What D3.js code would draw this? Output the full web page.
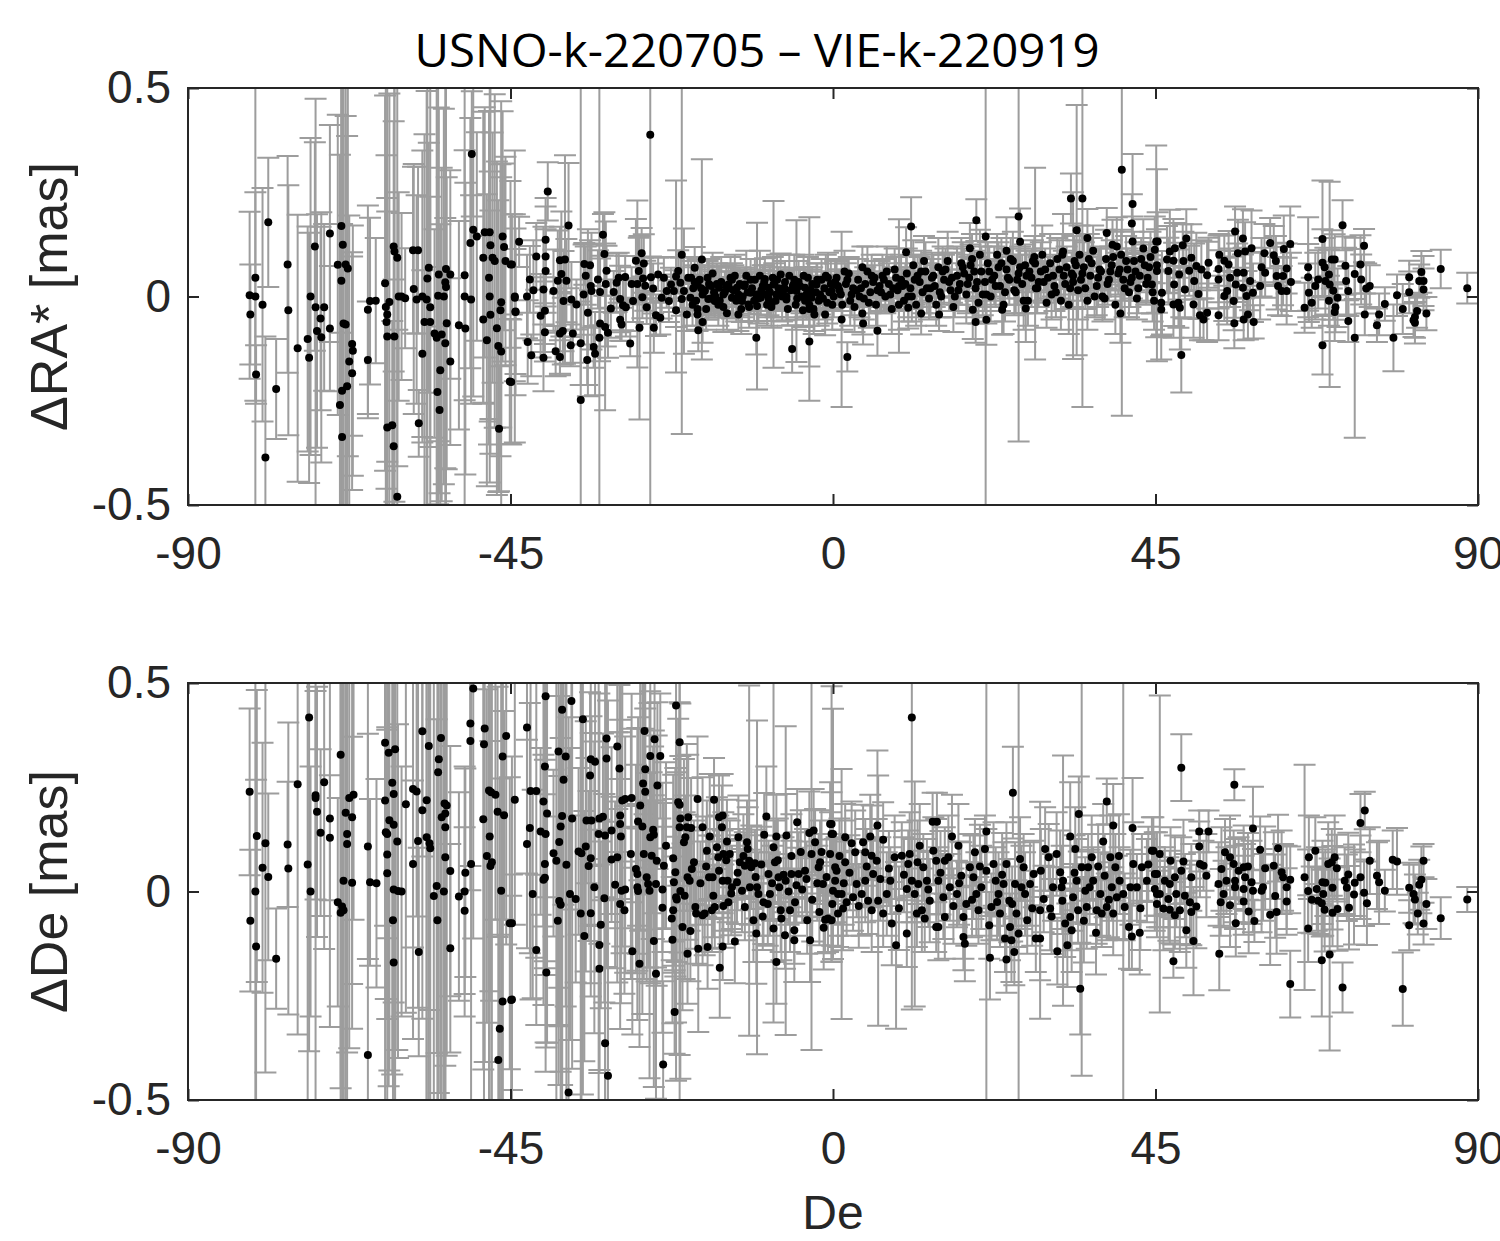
<!DOCTYPE html>
<html><head><meta charset="utf-8">
<script src="https://cdn.jsdelivr.net/npm/d3@7"></script>
<style>body{margin:0;background:#fff}</style>
</head><body>
<script>
// ---------------- DATA: [declination (deg), difference (mas), sigma (mas)] ----------------
const titleText = "USNO-k-220705 – VIE-k-220919";
const xTicks = [-90, -45, 0, 45, 90];
const yTicks = [-0.5, 0, 0.5];
const xLabel = "De";
const yLabelTop = "ΔRA* [mas]";
const yLabelBottom = "ΔDe [mas]";

// ΔRA* panel
const raSouth = [[-81.4,0.003,0.2],[-81.3,-0.043,0.12],[-80.6,0.045,0.6],[-80.6,0,0.25],[-80.5,-0.187,0.07],[-79.6,-0.02,0.28],[-79.2,-0.386,0.29],[-78.8,0.178,0.155],[-77.7,-0.222,0.12],[-76.1,0.077,0.26],[-76,-0.033,0.3],[-74.7,-0.124,0.32],[-73.3,-0.102,0.27],[-73.1,-0.147,0.3],[-72.9,0,0.38],[-72.3,0.12,0.25],[-72.2,-0.026,0.5],[-72,-0.083,0.28],[-71.5,-0.053,0.22],[-71.4,-0.098,0.3],[-71,-0.026,0.2],[-70.2,0.151,0.26],[-70.2,-0.077,0.15],[-69.1,0.076,0.36],[-68.6,0.169,0.7],[-68.4,0.124,0.8],[-68.6,0.038,0.6],[-68,0.077,0.7],[-67.7,0.067,0.45],[-68.3,-0.065,0.7],[-68,-0.067,0.5],[-67.1,-0.114,0.22],[-67,-0.13,0.3],[-67.5,-0.156,0.35],[-67.1,-0.184,0.28],[-67.8,-0.215,0.6],[-68.5,-0.226,0.4],[-68.8,-0.26,0.6],[-68.5,-0.337,0.25],
[-64.9,-0.032,0.25],[-64.6,-0.011,0.2],[-63.8,-0.01,0.15],[-64.9,-0.152,0.14],[-62.5,0.032,0.45],[-62.4,-0.025,0.6],[-61.9,-0.013,0.5],[-62.2,-0.043,0.7],[-62.3,-0.061,0.4],[-62.2,-0.096,0.3],[-61.2,-0.096,0.8],[-61.3,0.12,0.3],[-61.2,0.108,0.6],[-60.8,0.093,0.5],[-60.6,0,0.25],[-60.2,0,0.2],[-59.7,-0.004,0.12],[-62.2,-0.314,0.55],[-61.5,-0.309,0.25],[-61.3,-0.359,0.4],[-60.8,-0.48,0.4],
[-58.5,0.018,0.3],[-58.1,-0.007,0.25],[-58.6,0.111,0.2],[-57.9,0.111,0.2],[-57.3,0,0.35],[-56.7,-0.007,0.5],[-56.2,-0.026,0.6],[-57.3,-0.137,0.2],[-57,-0.061,0.45],[-56.2,-0.061,0.3],[-56.6,0.043,0.55],[-56.4,0.069,0.3],[-57.8,-0.304,0.08],[-55,0.053,0.4],[-54,0.066,0.6],[-53.4,0.053,0.25],[-54.1,0.034,0.55],[-54,0.023,0.7],[-55.1,0.002,0.5],[-54.3,0,0.45],[-53.9,-0.064,0.35],[-55.6,-0.089,0.25],[-55.3,-0.099,0.6],[-54.6,-0.091,0.4],[-54.1,-0.112,0.3],[-53.4,-0.156,0.2],[-54.8,-0.177,0.35],[-55.2,-0.229,0.3],[-54.9,-0.272,0.2],
[-52.2,-0.069,0.25],[-51.3,-0.077,0.35],[-51.4,0.051,0.3],[-51.4,0,0.6],[-50.5,-0.007,0.25],[-50.6,0.128,0.3],[-50.2,0.16,0.4],[-50.4,0.342,0.15],[-49.7,0.144,0.25],[-48.8,0.093,0.35],[-48.6,0.154,0.3],[-47.9,0.154,0.6],[-47.8,0.123,0.5],[-48,0.045,0.4],[-47.9,0,0.3],[-47.8,-0.044,0.25],[-48.8,-0.055,0.2],[-48.3,-0.105,0.35],[-47.5,0.093,0.3],[-47.2,0.085,0.4],[-46.1,0.144,0.3],[-45.9,0.119,0.2],[-45.7,0.085,0.25],[-45,0.077,0.2],[-46.3,-0.014,0.3],[-46.4,-0.033,0.35],[-46.9,-0.076,0.4],[-46.7,-0.119,0.35],[-46.3,-0.132,0.6],[-45.1,-0.204,0.15],[-46.6,-0.317,0.15],[-44.4,-0.003,0.2],[-44.3,-0.037,0.2]];

const raMid = [[-44.8,0.077,0.12],[-44.4,0,0.35],[-44.3,-0.036,0.15],[-44.9,-0.205,0.15],[-43.8,0.131,0.06],[-42.7,0,0.1],[-42.3,0.041,0.08],[-42.6,-0.109,0.1],[-42.1,-0.141,0.05],[-41.8,0.015,0.12],[-41.4,0.096,0.08],[-40.4,-0.147,0.08],[-40.8,-0.046,0.1],[-40.2,-0.034,0.08],[-40.2,-0.086,0.07],[-40.4,0.017,0.15],[-40.1,0.061,0.1],[-40.1,0.096,0.12],[-40.1,0.136,0.1],[-39.8,0.252,0.07],[-39,0.013,0.1],[-38.4,0.038,0.12],[-38.7,-0.131,0.06],[-38.1,-0.145,0.04],[-38.1,-0.089,0.1],[-37.7,-0.083,0.08],[-37.9,0.054,0.15],[-38.1,0.087,0.08],[-37.4,0.089,0.25],[-37.2,0.038,0.1],[-37.6,-0.011,0.12],[-36.9,0.17,0.15],[-36.6,-0.117,0.05],[-36.3,-0.089,0.07],[-36.5,-0.007,0.09],[-35.8,-0.019,0.06],[-35.2,-0.248,0.8],[-35.2,-0.112,0.1],[-34.3,-0.152,0.06],[-34.2,-0.039,0.2],[-34.8,0.005,0.12],[-34.7,0.078,0.05],[-34.5,0.05,0.07],[-33.9,0.075,0.06],[-33.8,0.025,0.1],[-33.7,0.013,0.14],[-33.4,-0.121,0.05],[-33.2,-0.137,0.1],[-32.8,0.041,0.07],[-32.5,0.011,0.08],[-32.6,-0.099,0.7],[-32.5,-0.065,0.09],[-32.1,0.148,0.05],[-31.9,0.102,0.1],[-31.7,0.03,0.15],[-31.6,0.062,0.06],[-31.8,-0.073,0.2],[-31.4,-0.087,0.06],[-31,-0.029,0.07],[-30.6,0.011,0.05],[-30.2,0.033,0.07],[-29.9,0.045,0.06],[-29.7,-0.006,0.08],[-29.7,-0.056,0.05],[-29.3,-0.021,0.06],[-29,0.047,0.05],[-29.5,-0.067,0.04],[-28.9,-0.026,0.07],[-28.3,-0.113,0.03],[-28.1,0.03,0.04],[-27.9,-0.011,0.05],[-27.5,0.086,0.1],[-27.1,0.061,0.08],[-27.3,0.03,0.2],[-27,-0.075,0.22],[-26.7,0.104,0.06],[-26.4,0.079,0.07],[-26.5,0.043,0.05],[-26.2,0.026,0.06],[-26.6,-0.002,0.05],[-26,-0.026,0.04],[-25.5,0.388,0.9],[-25.4,0.046,0.05],[-25,-0.075,0.06],[-24.7,-0.045,0.05],[-25.1,0.019,0.06],[-24.4,0.053,0.04],[-23.9,-0.003,0.05],[-24.1,-0.051,0.04],[-23.6,0.045,0.05],[-23.2,0.013,0.04],[-22.9,-0.011,0.05],[-22.6,0.029,0.04],[-22.2,0.013,0.05],[-21.9,-0.033,0.04],[-21.9,0.048,0.23],[-21.6,0.061,0.05],[-21.1,0.1,0.43],[-21.3,0.033,0.06],[-21.1,-0.006,0.04],[-20.8,0.013,0.15],[-20.4,-0.043,0.04],[-20.2,0.045,0.05],[-19.9,-0.003,0.04],[-19.3,0.069,0.05],[-18.9,0.029,0.06],[-18.9,-0.043,0.04],[-18.8,-0.081,0.05],[-18.3,0.089,0.24],[-18.2,-0.061,0.05],[-17.9,0.013,0.04],[-17.4,-0.006,0.05],[-17,0.025,0.04],[-16.5,-0.011,0.04],[-15.9,0.021,0.05],[-15.3,0.005,0.04],[-14.6,0.029,0.04],[-14.1,-0.003,0.05],[-13.4,0.021,0.04],[-13.2,-0.043,0.04],[-12.7,-0.011,0.05],[-12.3,0.029,0.04],[-11.8,-0.019,0.04],[-11.5,0.009,0.05],[-10.7,-0.099,0.04],[-10.6,-0.023,0.2],[-10.1,-0.003,0.04],[-9.5,0.042,0.05],[-9,0.021,0.04],[-8.6,-0.019,0.04],[-8.3,0.029,0.2],[-7.9,0.005,0.04],[-7.3,0.053,0.05],[-6.8,0.021,0.04],[-6.5,-0.007,0.05],[-5.7,-0.126,0.057],[-5.5,0.029,0.04],[-5.1,0.013,0.17],[-4.2,-0.033,0.04],[-3.9,0.021,0.05],[-3.3,-0.108,0.06],[-3.3,-0.03,0.22],[-3,-0.003,0.04],[-2.6,-0.043,0.04],[-2.3,0.029,0.05],[-1.8,-0.003,0.04],[-1.1,-0.043,0.05],[-0.7,0.045,0.06],[-0.2,0.013,0.04],[0.3,0.029,0.05]];

const raBand = [[-19.5,0.02,0.05],[-19.1,-0.01,0.06],[-18.6,0.04,0.05],[-18.2,0.005,0.04],[-17.7,-0.03,0.05],[-17.3,0.03,0.06],[-16.8,0.055,0.05],[-16.4,0,0.04],[-16,-0.02,0.05],[-15.6,0.035,0.06],[-15.1,0.01,0.05],[-14.8,-0.04,0.04],[-14.3,0.045,0.05],[-13.9,0.015,0.06],[-13.5,-0.01,0.05],[-13,0.03,0.04],[-12.6,0,0.05],[-12.1,0.05,0.06],[-11.7,-0.025,0.05],[-11.3,0.02,0.04],[-10.9,0.04,0.05],[-10.4,-0.005,0.06],[-10,0.015,0.05],[-9.6,0.035,0.04],[-9.2,-0.02,0.05],[-8.8,0.01,0.06],[-8.4,0.045,0.05],[-8,-0.01,0.04],[-7.6,0.02,0.05],[-7.1,0,0.06],[-6.7,0.035,0.05],[-6.3,-0.03,0.04],[-5.9,0.015,0.05],[-5.4,0.04,0.06],[-5,-0.005,0.05],[-4.6,0.025,0.04],[-4.1,0.05,0.05],[-3.7,0.005,0.06],[-3.3,-0.02,0.05],[-2.9,0.03,0.04],[-2.4,0.01,0.05],[-2,-0.01,0.06],[-1.6,0.04,0.05],[-1.2,0.02,0.04],[-0.8,-0.015,0.05],[-0.3,0.03,0.06],[0.1,0,0.05],[0.5,0.045,0.04],[0.9,0.015,0.05],[1.3,-0.02,0.06],[1.8,0.03,0.05],[2.2,0.055,0.04],[2.6,0.005,0.05],[3,-0.025,0.06],[3.5,0.04,0.05],[3.9,0.02,0.04],[4.3,-0.005,0.05],[4.8,0.06,0.06],[5.2,0.01,0.05],[5.6,0.035,0.04],[6,-0.02,0.05],[6.5,0.025,0.06],[6.9,0.05,0.05],[7.3,0,0.04],[7.8,0.03,0.05],[8.2,-0.03,0.06],[8.6,0.065,0.05],[9,0.015,0.05],[9.5,0.04,0.06],[9.9,-0.01,0.05],[10.3,0.055,0.06],[10.8,0.02,0.05],[11.2,0.075,0.06],[11.6,-0.02,0.05],[12.1,0.035,0.06],[12.5,0.01,0.05],[12.9,0.06,0.07],[13.4,-0.005,0.05],[13.8,0.045,0.06],[14.2,0.025,0.05],[14.7,0.07,0.07],[15.1,0,0.05],[15.5,0.04,0.06],[16,0.085,0.07],[16.4,0.015,0.05],[16.8,-0.025,0.06],[17.3,0.05,0.07],[17.7,0.03,0.05],[18.1,0.07,0.06],[18.6,0.005,0.07],[19,0.045,0.05],[19.4,0.09,0.06],[19.9,0.02,0.07],[20.3,-0.015,0.05],[20.7,0.06,0.06],[21.2,0.035,0.07],[21.6,0.08,0.05],[22,0,0.06],[22.5,0.05,0.07],[22.9,0.1,0.05],[23.3,0.025,0.06],[23.8,-0.02,0.07],[24.2,0.065,0.05],[24.6,0.04,0.06],[25.1,0.085,0.07],[25.5,0.01,0.05],[25.9,0.055,0.06],[26.4,0.03,0.07],[26.8,0.075,0.05],[27.2,-0.01,0.06],[27.7,0.045,0.07],[28.1,0.095,0.05],[28.5,0.02,0.06],[29,0.06,0.07],[29.4,0.035,0.05],[29.8,-0.015,0.06],[30.3,0.08,0.07],[30.7,0.05,0.05],[31.1,0.01,0.06],[31.6,0.065,0.07],[32,0.1,0.05],[32.4,0.03,0.06],[32.9,-0.02,0.07],[33.3,0.055,0.05],[33.7,0.085,0.06],[34.2,0.015,0.07],[34.6,0.04,0.05],[35,0.07,0.06],[35.5,-0.01,0.07],[35.9,0.05,0.05],[36.3,0.11,0.06],[36.8,0.025,0.07],[37.2,0.065,0.05],[37.6,0,0.06],[38.1,0.09,0.07],[38.5,0.04,0.05],[38.9,0.075,0.06],[39.4,-0.02,0.07],[39.8,0.055,0.05],[40.2,0.1,0.06],[40.7,0.02,0.07],[41.1,0.065,0.05],[41.5,0.035,0.06],[42,0.085,0.07],[42.4,-0.005,0.05],[42.8,0.05,0.06],[43.3,0.115,0.07],[43.7,0.03,0.05],[44.1,0.07,0.06],[44.6,0.01,0.07],
[-19.8,0.045,0.04],[-18.9,-0.03,0.05],[-17.9,0.015,0.06],[-17,-0.005,0.04],[-16.2,0.03,0.05],[-15.3,-0.025,0.06],[-14.5,0.02,0.04],[-13.7,0.05,0.05],[-12.8,-0.03,0.06],[-11.9,0.01,0.04],[-11,-0.01,0.05],[-10.2,0.05,0.06],[-9.4,0.005,0.04],[-8.6,-0.025,0.05],[-7.8,0.04,0.06],[-6.9,0.015,0.04],[-6.1,0.05,0.05],[-5.2,-0.02,0.06],[-4.4,0,0.04],[-3.5,0.045,0.05],[-2.7,-0.03,0.06],[-1.8,0.005,0.04],[-1,0.05,0.05],[-0.1,-0.02,0.06],[0.7,0.025,0.04],[1.6,0.06,0.05],[2.4,-0.01,0.06],[3.3,0.015,0.04],[4.1,0.07,0.05],[5,-0.015,0.06],[5.8,0.045,0.04],[6.7,0.01,0.05],[7.5,0.06,0.06],[8.4,0.02,0.05],[9.2,-0.02,0.06],[10.1,0.03,0.05],[11,0,0.06],[11.8,0.05,0.05],[12.7,0.085,0.06],[13.6,0.02,0.07],[14.4,-0.02,0.05],[15.3,0.06,0.06],[16.2,0.035,0.07],[17,0,0.05],[17.9,0.08,0.06],[18.8,0.03,0.07],[19.7,0.06,0.05],[20.5,0.1,0.06],[21.4,0.005,0.07],[22.2,0.04,0.05],[23.1,0.07,0.06],[24,0.01,0.07],[24.8,0.09,0.05],[25.7,0.04,0.06],[26.6,-0.01,0.07],[27.4,0.06,0.05],[28.3,0.02,0.06],[29.2,0.1,0.07],[30,0.045,0.05],[30.9,0.025,0.06],[31.8,-0.01,0.07],[32.6,0.07,0.05],[33.5,0.035,0.06],[34.4,0.1,0.07],[35.2,0.02,0.05],[36.1,0.08,0.06],[37,0.045,0.07],[37.9,-0.005,0.05],[38.7,0.06,0.06],[39.6,0.12,0.07],[40.5,0.04,0.05],[41.3,0.01,0.06],[42.2,0.06,0.07],[43,0.09,0.05],[43.9,0.045,0.06],[44.8,-0.01,0.07]];

const raBand2 = [[-19.6,-0.02,0.05],[-19.3,0.035,0.04],[-18.4,0.02,0.05],[-17.5,0.045,0.04],[-16.6,0.01,0.05],[-15.8,-0.01,0.04],[-14.9,0.025,0.05],[-14.1,0.04,0.04],[-13.2,0.005,0.05],[-12.4,0.025,0.04],[-11.5,0.04,0.05],[-10.7,0.005,0.04],[-9.8,0.025,0.05],[-9,-0.005,0.04],[-8.2,0.03,0.05],[-7.3,0.01,0.04],[-6.5,0,0.05],[-5.6,0.025,0.04],[-4.8,0.035,0.05],[-3.9,-0.01,0.04],[-3.1,0.015,0.05],[-2.2,0.04,0.04],[-1.4,-0.005,0.05],[-0.5,0.01,0.04],[0.3,0.035,0.05],[1.1,0.005,0.04],[2,0.04,0.05],[2.8,0.02,0.04],[3.7,0,0.05],[4.5,0.03,0.04],[5.4,0.05,0.05],[6.2,0.015,0.04],[7.1,0.04,0.05],[8,0.005,0.04],[8.8,0.045,0.05],[9.7,0.025,0.04],[10.5,0,0.05],[11.4,0.04,0.06],[12.3,0.06,0.05],[13.1,0.02,0.06],[14,0.05,0.05],[14.9,0.01,0.06],[15.7,0.065,0.05],[16.6,0.045,0.06],[17.5,0.015,0.05],[18.3,0.055,0.06],[19.2,0.075,0.05],[20.1,0.035,0.06],[20.9,0.005,0.05],[21.8,0.06,0.06],[22.7,0.025,0.05],[23.5,0.08,0.06],[24.4,0.045,0.05],[25.3,0.015,0.06],[26.1,0.07,0.05],[27,0.05,0.06],[27.9,0.085,0.05],[28.7,0.035,0.06],[29.6,0.065,0.05],[30.5,0.005,0.06],[31.3,0.09,0.05],[32.2,0.05,0.06],[33.1,0.02,0.05],[33.9,0.075,0.06],[34.8,0.055,0.05],[35.7,0.09,0.06],[36.5,0,0.05],[37.4,0.06,0.06],[38.3,0.03,0.05],[39.1,0.095,0.06],[40,0.065,0.05],[40.9,0.085,0.06],[41.7,0.045,0.05],[42.6,0.02,0.06],[43.5,0.075,0.05],[44.3,0.095,0.06]];

const raNorthOut = [[2,-0.145,0.035],[4.1,-0.041,0.05],[4.2,-0.065,0.05],[6.2,-0.082,0.06],[10.9,0.168,0.07],[10.2,0.106,0.06],[9.2,0.025,0.16],[1.2,-0.055,0.21],[20,0.183,0.05],[21.3,0.144,0.9],[19.9,-0.061,0.05],[21.4,-0.056,0.06],[25.9,0.192,0.54],[26.1,0.131,0.08],[33.2,0.235,0.06],[34.8,0.235,0.5],[34,0.159,0.3],[40.3,0.304,0.59],[41.8,0.222,0.12],[41.7,0.175,0.07],[41.8,0.132,0.06],[40.1,-0.041,0.07],[38.2,0.152,0.06],[35.5,0.14,0.07],[26.9,-0.029,0.08],[28.2,0.079,0.23],[23.6,-0.032,0.06],[19.5,-0.032,0.07],[12.3,-0.041,0.05],[10.5,-0.027,0.05],[14.8,-0.043,0.04],[19.1,0.116,0.06],[24.2,0.11,0.08],[32.1,0.108,0.09],[33.5,0.05,0.2],[39,0.124,0.06],[45.3,0.132,0.07],[45.2,0.075,0.23]];

const raFar = [[45.1,0.132,0.23],[44.9,0.112,0.08],[45.2,0.061,0.1],[44.5,0.029,0.07],[45.9,0.009,0.1],[45.8,-0.015,0.08],[45.8,-0.031,0.12],[47,0.108,0.1],[47.7,0.116,0.06],[48.8,0.123,0.05],[49.3,0.139,0.07],[46.6,0.089,0.08],[47.5,0.086,0.1],[46.8,0.061,0.08],[48.3,0.053,0.06],[47.6,0.029,0.1],[48.9,0.085,0.07],[50,0.093,0.08],[49.7,0.062,0.06],[50.7,0.073,0.08],[51.4,0.065,0.07],[50.4,0.037,0.09],[51,0.006,0.06],[50.3,-0.019,0.08],[49.1,0.017,0.07],[48.2,-0.015,0.06],[47.5,-0.019,0.08],[48.4,-0.027,0.1],[51.2,-0.045,0.06],[51.7,-0.055,0.05],[52.2,-0.039,0.07],[48.6,-0.14,0.09],[52.4,0.081,0.06],[52.2,0.051,0.08],[53.9,0.1,0.05],[53.8,0.066,0.08],[53.8,0.041,0.07],[54.6,0.086,0.06],[55.2,0.077,0.08],[55.4,0.045,0.07],[54.6,0.001,0.06],[55,0.013,0.08],[55.9,-0.011,0.07],[53.8,-0.045,0.06],[56,-0.064,0.06],[56.1,0.156,0.06],[57.2,0.139,0.07],[56.5,0.104,0.08],[57.5,0.108,0.07],[58.4,0.116,0.09],[56.4,0.057,0.07],[56.2,0.029,0.08],[57.3,0.057,0.06],[58.2,0.037,0.07],[57.2,0.021,0.08],[57.7,0.001,0.06],[58.6,0.009,0.07],[57.9,-0.043,0.06],[57.3,-0.055,0.05],[58.7,-0.061,0.04],[59.6,0.025,0.08],[59.8,0.07,0.07],[60.3,0.057,0.06],[60.2,0.104,0.07],[61,0.128,0.06],[61.5,0.099,0.07],[61.8,0.085,0.06],[61.9,0.049,0.08],[62.1,0.025,0.07],[62.6,0.013,0.06],[62.9,0.114,0.08],[63.3,0.067,0.06],[62.8,0.049,0.07],[63.3,0.013,0.08],[63.8,0.126,0.09],[63.9,0.035,0.07],[65.8,-0.027,0.06],[66.3,0.07,0.12],[66.3,0.046,0.08],[66.4,0.009,0.07],[66.8,-0.015,0.06],[67.3,0.025,0.08],[67.7,0.041,0.07],[68.3,0.138,0.14],[68.3,0.081,0.08],[68.6,0.07,0.07],[68.7,0.037,0.08],[69.2,0.053,0.06],[69.3,0.029,0.246],[69.6,0.089,0.07],[70,0.089,0.06],[69.8,0.014,0.07],[69.2,-0.01,0.06],[70.4,-0.003,0.07],[70.1,-0.026,0.06],[70,-0.037,0.07],[68.3,-0.117,0.07],[71.1,0.171,0.06],[71.5,0.074,0.07],[71.6,0.037,0.08],[71.9,0.013,0.06],[71.9,-0.059,0.05],[72.8,0.054,0.06],[72.8,-0.099,0.24],[73.6,0.077,0.07],[73.7,0.041,0.06],[74.1,0.122,0.04],[74.4,0.019,0.06],[74.9,0.025,0.05],[74.2,-0.043,0.05],[75.9,-0.069,0.04],[76.2,-0.043,0.05],[77,-0.018,0.04],[78.2,-0.099,0.08],[78.7,0.003,0.05],[79.5,-0.03,0.06],[80.4,0.046,0.04],[80.4,0.01,0.05],[81.5,-0.035,0.04],[81.2,-0.049,0.05],[81,-0.057,0.04],[81.2,-0.063,0.05],[81.8,0.037,0.04],[82.1,0.059,0.05],[82.4,0.037,0.06],[82.4,0.017,0.05],[82.8,-0.041,0.04],[84.8,0.066,0.046],[88.5,0.02,0.037]];

// ΔDe panel
const deSouth = [[-81.4,0.239,0.2],[-80.4,0.133,0.35],[-79.2,0.116,0.55],[-79.6,0.057,0.3],[-78.8,0.035,0.2],[-80.6,0,0.8],[-81.3,-0.07,0.17],[-80.5,-0.132,0.4],[-77.7,-0.161,0.12],[-76.1,0.113,0.15],[-76,0.055,0.35],[-74.7,0.257,0.6],[-73.1,0.417,0.8],[-73.3,0.065,0.7],[-72.9,0,0.3],[-72.2,0.231,0.25],[-72.2,0.224,0.8],[-72,0.191,0.3],[-71.5,0.141,0.2],[-71,0.262,0.4],[-70.2,0.175,0.5],[-70.2,0.129,0.15],[-68.7,0.328,0.8],[-68,0.189,0.9],[-67.8,0.138,0.7],[-67.8,0.114,0.5],[-67.5,0.224,0.6],[-66.9,0.232,0.3],[-67.1,0.178,0.4],[-68.3,0.026,0.8],[-67.1,0.021,0.35],[-69.1,-0.026,0.25],[-68.5,-0.036,0.7],[-68.7,-0.051,0.9],[-68.3,-0.045,0.6],[-64.9,0.108,0.27],[-64.6,0.022,0.2],[-63.7,0.02,0.25],[-64.9,-0.392,0.9],[-62.5,0.357,0.9],[-62,0.333,0.8],[-61.1,0.341,0.9],[-61.5,0.261,0.7],[-61.3,0.234,0.5],[-62.5,0.218,0.3],[-61.9,0.171,0.6],[-61.3,0.16,0.9],[-62.4,0.142,0.4],[-62.2,0.138,0.25],[-60.8,0.12,0.5],[-62.2,0.089,0.7],[-62.2,0.044,0.35],[-61.3,0.005,0.6],[-60.7,0.001,0.4],[-60.2,0,0.3],[-59.6,0.209,0.5],[-61.4,-0.069,0.9],[-61.3,-0.17,0.7],[-58.6,0.246,0.6],[-58.1,0.24,0.3],[-57.3,0.195,0.5],[-56.7,0.219,0.9],[-57.3,0.384,0.3],[-56.4,0.349,0.9],[-57.9,0.121,0.4],[-58.6,0.066,0.2],[-56.7,0.13,0.7],[-56.3,0.116,0.4],[-56.2,0.104,0.9],[-57.8,-0.145,0.25],[-54.7,0.368,0.9],[-55,0.317,0.8],[-55.1,0.286,0.9],[-54.2,0.211,0.9],[-53.9,0.206,0.6],[-54.1,0.187,0.8],[-54.6,0.178,0.9],[-54.1,0.154,0.7],[-54.1,0.082,0.5],[-53.4,0.049,0.3],[-55.3,0.013,0.4],[-55.7,-0.011,0.8],[-54.3,0,0.6],[-55.2,-0.069,0.9],[-53.4,-0.136,0.25],[-50.2,0.487,0.6],[-50.6,0.403,0.4],[-50.6,0.361,0.3],[-48.6,0.391,0.8],[-48.7,0.353,0.9],[-50.5,0.066,0.6],[-51.3,0.045,0.25],[-51.4,0,0.3],[-52.2,-0.012,0.25],[-51.4,-0.046,0.2],[-48.8,0.173,0.6],[-48,0.242,0.9],[-47.7,0.238,0.5],[-47.1,0.232,0.3],[-47.9,0.132,0.9],[-48.3,0.085,0.4],[-47.6,0.07,0.7],[-47.8,0.061,0.3],[-46.8,0.191,0.3],[-45.9,0.183,0.25],[-46.1,0.324,0.9],[-45.6,0.373,0.5],[-46.3,0.002,0.9],[-45.1,-0.076,0.35],[-46.1,-0.264,0.9],[-44.9,-0.26,0.25],[-46.5,-0.329,0.6],[-46.7,-0.404,0.3],[-44.4,0.22,0.3]];

const deMid = [[-44.8,-0.076,0.4],[-44.8,-0.259,0.3],[-40.1,0.468,0.9],[-37.8,0.436,0.9],[-36.5,0.457,0.5],[-42.7,0.393,0.35],[-34.9,0.413,0.9],[-38.3,0.336,0.8],[-37.3,0.324,0.6],[-40.2,0.3,0.5],[-37.6,0.268,0.3],[-42.2,0.241,0.5],[-41.4,0.241,0.4],[-40.4,0.216,0.3],[-39.9,0.187,0.55],[-37.8,0.181,0.9],[-38,0.156,0.7],[-36.4,0.175,0.6],[-42.3,0.152,0.3],[-40.8,0.144,0.2],[-40.1,0.138,0.5],[-42.7,0.114,0.25],[-38.2,0.119,0.35],[-39,0.092,0.2],[-38.6,0.074,0.8],[-40.2,0.066,0.25],[-37.2,0.064,0.9],[-40.4,0.028,0.3],[-40.2,0.033,0.2],[-41.9,-0.006,0.25],[-38.2,-0.023,0.3],[-38,-0.032,0.4],[-38.4,-0.07,0.25],[-36.7,-0.006,0.35],[-35.9,-0.018,0.2],[-41.4,-0.14,0.18],[-40,-0.194,0.18],[-36.9,-0.482,0.9],[-35.2,-0.053,0.9],[-34.7,-0.107,0.3],[-35.5,0.096,0.2],[-35.1,0.092,0.6],[-34.5,0.108,0.3],[-33.9,0.278,0.2],[-33.8,0.317,0.4],[-33.2,0.311,0.25],[-34.4,0.17,0.15],[-33.7,0.17,0.25],[-33.8,0.08,0.3],[-34.1,0.061,0.18],[-33.3,0.01,0.35],[-33.8,-0.052,0.2],[-32.7,0.138,0.9],[-32.6,0.175,0.3],[-32.1,0.179,0.2],[-31.8,0.134,0.9],[-31.6,0.367,0.2],[-31.6,0.319,0.5],[-31.9,-0.016,0.25],[-32.4,-0.08,0.2],[-32.6,-0.128,0.3],[-32.6,-0.185,0.25],[-31.8,-0.364,0.35],[-31.4,-0.442,0.9],[-30.9,0.146,0.2],[-30.9,0.077,0.15],[-30.1,0.348,0.15],[-29.8,0.295,0.2],[-30.1,0.082,0.3],[-29.6,0.132,0.4],[-29.7,0.162,0.25],[-29.7,0.182,0.2],[-29.4,0.218,0.35],[-29,0.222,0.15],[-28.1,0.224,0.25],[-30.4,0.016,0.2],[-29.5,0.002,0.15],[-29,0.005,0.2],[-29.7,-0.03,0.3],[-29.1,-0.045,0.2],[-28,-0.143,0.2],[-28.2,0.09,0.3],[-27.5,0.054,0.25],[-27.3,0.042,0.35],[-27.3,0.01,0.2],[-27.2,0.001,0.15],[-26.9,0.206,0.3],[-27,-0.173,0.2],[-26.3,0.385,0.2],[-26.2,0.293,0.3],[-26.5,0.259,0.35],[-26.2,0.239,0.2],[-27.2,0.168,0.25],[-26.6,0.156,0.45],[-26.4,0.09,0.3],[-26,0.034,0.25],[-25.8,0.018,0.2],[-25.6,0.002,0.45],[-25.5,0.325,0.25],[-24.9,0.365,0.3],[-24.1,0.325,0.15],[-24.5,0.254,0.2],[-25.1,0.148,0.2],[-25.5,0.13,0.35],[-25,0.136,0.25],[-25.3,0.086,0.2],[-24.6,0.074,0.3],[-24.7,0.018,0.2],[-23.8,0.005,0.15],[-23.8,-0.039,0.3],[-25,-0.119,0.35],[-24.7,-0.197,0.3],[-23.7,-0.415,0.2],[-23.3,0.11,0.2],[-23.6,0.062,0.15],[-22.3,0.08,0.2],[-21.9,0.446,0.9],[-21.4,0.358,0.9],[-21.6,0.214,0.2],[-21.4,0.208,0.6],[-21.3,0.175,0.15],[-21.4,0.154,0.3],[-20.4,0.154,0.2],[-20.2,0.178,0.15],[-19.8,0.152,0.12],[-20.8,0.118,0.2],[-20.6,0.13,0.1],[-22,0.046,0.25],[-22.2,0.022,0.2],[-21.9,-0.014,0.3],[-21.8,-0.019,0.15],[-21.3,0.001,0.45],[-20.7,-0.01,0.2],[-20.3,0.034,0.15],[-20,0.026,0.12],[-19.7,0.054,0.1],[-22.3,-0.045,0.15],[-22.5,-0.065,0.1],[-22.4,-0.116,0.2],[-21,-0.085,0.2],[-19.9,-0.095,0.12],[-20.3,-0.149,0.12],[-22.1,-0.289,0.1],[-19.2,-0.037,0.1],[-19.1,-0.053,0.12],[-18.8,-0.137,0.2],[-18.9,0.222,0.15],[-18.2,0.154,0.12],[-18.2,-0.057,0.12],[-17.9,-0.053,0.1],[-17.6,0.098,0.12],[-17.3,0.034,0.1],[-17.2,0.132,0.15],[-16.8,0.034,0.1],[-16.6,0.22,0.1],[-17.5,-0.133,0.1],[-15.8,-0.183,0.12],[-16.9,-0.045,0.1],[-16.5,-0.037,0.1],[-16.2,0.106,0.12],[-16,0.082,0.1],[-15.9,0.178,0.1],[-15.4,0.182,0.1],[-15.5,0.154,0.1],[-15.4,0.026,0.12],[-15.3,0.09,0.1],[-14.8,0.12,0.1],[-14.7,0.026,0.1],[-15.3,-0.035,0.1],[-14.6,-0.026,0.1],[-14.4,0.09,0.08],[-15.4,-0.132,0.08],[-13.7,-0.12,0.1],[-14.1,0.01,0.1],[-13.4,0.022,0.1],[-13.2,0.13,0.1],[-13,0.07,0.08],[-12.7,0.002,0.1],[-12.3,-0.037,0.08],[-12,0.118,0.1],[-11.9,0.102,0.1],[-12.3,0.062,0.08],[-11.7,0.074,0.42],[-11.4,0.058,0.1],[-10.9,0.068,0.08],[-11.1,-0.069,0.1],[-10.7,-0.101,0.12],[-10.6,0.01,0.4],[-10.4,-0.006,0.1],[-9.8,-0.06,0.08],[-9.7,-0.026,0.1],[-9.6,0.136,0.1],[-9.3,0.18,0.12],[-9,0.042,0.08],[-8.8,-0.006,0.1],[-8.3,0.106,0.42],[-8.1,0.07,0.1],[-8.3,-0.089,0.08],[-7.9,-0.169,0.1],[-7.6,0.034,0.1],[-7.5,0.01,0.08],[-7.9,0.132,0.1],[-7.3,-0.045,0.1],[-7.2,-0.065,0.1],[-6.7,-0.105,0.08],[-6.6,0.026,0.37],[-6.5,0.134,0.1],[-6.2,0,0.08],[-5.8,0.085,0.1],[-5.8,0.042,0.08],[-5.4,-0.093,0.08],[-5.4,-0.117,0.1],[-5.3,-0.026,0.08],[-5,0.166,0.08],[-4.8,0.042,0.1],[-4.3,0.005,0.08],[-3.9,0.05,0.1],[-3.6,-0.069,0.08],[-3.3,0.14,0.1],[-3.2,-0.117,0.1],[-3,0.09,0.47],[-2.7,0.146,0.1],[-2.5,0.118,0.08],[-2,0.058,0.08],[-1.8,0.07,0.1],[-1.9,-0.049,0.08],[-1.4,0.018,0.08],[-1.3,-0.087,0.1],[-1.1,-0.068,0.08],[-0.7,-0.065,0.08],[-0.4,0.09,0.1],[-0.2,0.162,0.33],[-0.2,0.138,0.1],[0,0.002,0.08],[0.3,0.058,0.08],[0.7,-0.006,0.1]];

const deBand = [[-19.4,0.07,0.1],[-18.5,0.02,0.1],[-17.7,0.06,0.12],[-16.7,-0.01,0.1],[-15.9,0.05,0.1],[-14.9,0.075,0.1],[-14.2,-0.005,0.1],[-13.3,0.045,0.09],[-12.5,0.085,0.1],[-11.6,0.01,0.09],[-10.8,0.035,0.1],[-10,0.065,0.09],[-9.1,-0.03,0.1],[-8.5,0.02,0.09],[-7.7,0.075,0.1],[-6.9,0.04,0.09],[-6,-0.045,0.1],[-5.1,0.015,0.09],[-4.5,0.095,0.1],[-3.7,0.03,0.09],[-2.9,-0.02,0.1],[-2.2,0.02,0.09],[-1.6,0.095,0.1],[-0.9,0.035,0.09],[-0.1,-0.03,0.1],[0.9,0.085,0.09],[1.5,0.02,0.1],[2.3,0.045,0.09],[3.6,-0.035,0.1],[4.7,0.06,0.09],[6.6,0.03,0.1],[7.8,0.055,0.09],[9.2,-0.04,0.1],[9.9,0.04,0.09],[11.8,0.07,0.1],[13.3,0.005,0.09],[15,0.045,0.1],[16.8,-0.035,0.09],[17.6,0.02,0.1],[19.4,-0.02,0.09],[20.5,0.06,0.1],[22.9,-0.025,0.09],[23.6,0.04,0.1],[25,-0.03,0.09],[26.3,0.01,0.1],[27.8,-0.04,0.09],[29,0.05,0.1],[30.5,-0.06,0.09],[31.9,0.01,0.1],[33.7,0.045,0.09],[35,-0.07,0.1],[35.8,0.01,0.09],[37,0.06,0.1],[38.5,-0.02,0.09],[39.9,0.085,0.1],[41.5,0.01,0.09],[42.9,-0.04,0.1],[44,0.065,0.09]];

const deNorth = [[11,0.417,0.7],[25.1,0.237,0.11],[38.2,0.216,0.055],[34.3,0.186,0.09],[39.1,0.158,0.1],[41.8,0.152,0.12],[21.4,0.144,0.9],[33.1,0.132,0.13],[33.8,0.102,0.1],[37.7,0.12,0.09],[6.2,0.158,0.18],[13.9,0.167,0.07],[14.5,0.167,0.07],[16.6,0.132,0.1],[-0.4,0.162,0.1],[0,0.138,0.3],[1.7,0.13,0.08],[2.6,0.116,0.1],[4.2,0.118,0.09],[5.2,0.132,0.1],[7,0.124,0.09],[3.1,0.094,0.1],[4.5,0.094,0.08],[5.4,0.086,0.12],[6.1,0.074,0.1],[5.6,0.042,0.08],[4.5,0.026,0.1],[3.3,0.018,0.08],[1.7,0.07,0.1],[0.5,0.05,0.08],[0.3,0.026,0.1],[1.2,-0.006,0.3],[1.9,-0.026,0.08],[1.4,-0.041,0.1],[0.7,-0.053,0.08],[-0.2,-0.069,0.1],[2.8,-0.014,0.08],[4,-0.006,0.1],[4.9,-0.022,0.08],[5.4,-0.045,0.1],[6.3,-0.022,0.3],[7,-0.053,0.08],[8.2,-0.077,0.1],[8.8,-0.129,0.2],[10.3,-0.101,0.08],[7.5,-0.006,0.1],[8,0.026,0.08],[8.6,0.082,0.1],[9.6,0.086,0.08],[10.7,0.09,0.1],[10.5,0.066,0.08],[11,0.026,0.1],[10.3,0.006,0.08],[11.4,-0.006,0.27],[11.9,0.018,0.08],[12.1,0.11,0.1],[12.6,0.058,0.08],[13.1,0.026,0.1],[11.7,-0.053,0.08],[12.4,-0.045,0.1],[12.8,-0.065,0.08],[13.5,-0.022,0.1],[14,0.098,0.08],[14.4,0.074,0.1],[14.7,0.026,0.08],[14.4,-0.085,0.06],[14.7,-0.085,0.08],[15.4,-0.014,0.1],[15.6,0.074,0.08],[16.1,0.082,0.1],[16.3,0.01,0.08],[15.6,-0.061,0.1],[17.3,-0.006,0.08],[17.5,0.11,0.1],[17.9,0.038,0.08],[18.2,-0.061,0.1],[18.2,-0.109,0.08],[18.4,-0.125,0.09],[18.6,-0.03,0.1],[19.1,0.058,0.08],[19.6,0.034,0.1],[19.8,0.094,0.08],[20,-0.006,0.1],[20.3,-0.045,0.08],[20.7,0.01,0.1],[21.2,0.102,0.08],[21.4,0.05,0.1],[21.8,-0.081,0.08],[21.9,-0.159,0.1],[22.1,-0.037,0.08],[22.4,0.066,0.1],[22.7,0.026,0.08],[23.1,-0.006,0.1],[23.3,-0.053,0.08],[23.8,0.018,0.1],[24,-0.113,0.08],[24.2,0.066,0.1],[24.2,-0.163,0.08],[24.6,-0.022,0.1],[24.7,-0.085,0.08],[24.9,-0.117,0.1],[25.3,-0.145,0.08],[25.4,0.018,0.1],[25.6,-0.053,0.08],[25.9,-0.101,0.9],[26.1,0.078,0.1],[26.6,0.058,0.08],[26.8,-0.006,0.1],[27.1,-0.069,0.08],[27.5,0.018,0.1],[28,0.042,0.08],[28.3,-0.113,0.08],[28.9,-0.113,0.1],[28.9,-0.045,0.26],[29.4,-0.018,0.08],[29.6,0.102,0.1],[30.1,0.082,0.08],[30.3,-0.041,0.1],[30.7,0.01,0.08],[31.2,0.09,0.1],[31.3,-0.143,0.08],[31.7,0.046,0.1],[32,-0.022,0.08],[32.1,0.026,0.3],[32.4,-0.077,0.08],[32.7,-0.129,0.1],[33.1,-0.061,0.08],[33.3,-0.093,0.1],[33.5,-0.014,0.08],[34,0.026,0.1],[34.2,-0.045,0.08],[34.5,-0.233,0.11],[34.7,0.058,0.5],[35.2,0.002,0.08],[35.4,-0.037,0.1],[35.6,0.058,0.08],[36.1,0.082,0.1],[36.3,0.026,0.08],[36.7,-0.099,0.1],[36.8,-0.045,0.08],[37.3,-0.006,0.1],[37.5,-0.053,0.08],[37.9,0.038,0.1],[38.2,-0.037,0.08],[38.7,0.082,0.1],[38.9,0.01,0.08],[39.1,-0.053,0.1],[39.4,0.058,0.08],[39.6,-0.014,0.1],[40,0.026,0.08],[40.5,-0.006,0.9],[40.7,-0.037,0.08],[41.3,-0.085,0.1],[41.7,-0.108,0.08],[41.9,0.066,0.1],[42.4,0.01,0.08],[42.8,-0.099,0.1],[43.1,0.058,0.08],[43.8,0.026,0.1],[44.5,0.098,0.08],[44.9,0.042,0.1],[45.2,-0.006,0.08]];

const deFar = [[48.6,0.297,0.08],[56,0.256,0.037],[74.2,0.194,0.045],[73.6,0.164,0.07],[58.6,0.151,0.1],[51.1,0.144,0.05],[52.4,0.144,0.05],[51.1,0.108,0.06],[44.7,0.098,0.08],[45.6,0.09,0.38],[47.1,0.074,0.08],[48.9,0.072,0.1],[51.2,0.066,0.08],[51.7,0.062,0.06],[46.3,0.026,0.08],[45.2,0.042,0.1],[47,0.018,0.08],[47.7,0.034,0.1],[48.6,0.05,0.08],[44.9,0.006,0.1],[45.6,-0.006,0.08],[46.8,-0.018,0.1],[47.9,-0.006,0.08],[49.1,-0.01,0.1],[45.2,-0.03,0.08],[46.1,-0.041,0.1],[47,-0.044,0.08],[48.4,-0.045,0.1],[47.7,-0.057,0.08],[49.8,-0.026,0.1],[50,-0.049,0.08],[50.7,-0.036,0.1],[50,0.034,0.08],[52.1,0.038,0.1],[49.3,-0.093,0.09],[50.3,-0.119,0.13],[47.5,-0.167,0.04],[53.9,-0.149,0.088],[54.7,0.094,0.08],[55.4,0.082,0.1],[55.9,0.066,0.08],[54.2,0.054,0.1],[56.6,0.05,0.08],[57.3,0.058,0.1],[57.9,0.06,0.08],[53.8,0.018,0.1],[54.9,0.026,0.08],[56.1,0.026,0.1],[57.5,0.034,0.08],[58.4,0.022,0.1],[54.5,-0.006,0.08],[56.1,0.01,0.1],[57.3,0.006,0.08],[58.6,0.002,0.1],[54.1,-0.026,0.08],[55.4,-0.033,0.1],[57.3,-0.024,0.08],[58,-0.048,0.1],[56.2,-0.076,0.08],[58.8,-0.071,0.05],[59.6,0.1,0.08],[60.3,0.056,0.1],[60,0.01,0.08],[59.8,0.002,0.1],[61.5,0.062,0.08],[62.1,0.104,0.08],[62.6,0.046,0.1],[62.8,0.034,0.08],[63.3,0.01,0.1],[63.8,0.028,0.08],[61.7,-0.011,0.1],[63.3,-0.024,0.08],[61.9,-0.049,0.1],[61,-0.056,0.12],[63.8,-0.222,0.08],[65.8,0.034,0.27],[66.4,0.082,0.1],[67.3,0.098,0.08],[66.3,0.001,0.1],[66.8,-0.02,0.08],[67.5,0.006,0.1],[67.7,-0.022,0.08],[68.3,0.022,0.1],[68.7,0.021,0.08],[68.4,-0.006,0.1],[68.2,-0.028,0.08],[68.6,-0.044,0.1],[66.3,-0.089,0.08],[68.2,-0.165,0.135],[69.3,-0.151,0.23],[69.1,0.066,0.1],[69.6,0.07,0.08],[70,0.082,0.1],[70.3,0.056,0.08],[69.7,0.009,0.1],[69.7,-0.051,0.08],[70.4,-0.042,0.1],[71.1,-0.23,0.06],[71.4,0.026,0.08],[71.9,0.041,0.1],[71.7,0.009,0.08],[72,-0.039,0.1],[72.7,-0.007,0.12],[72.8,0.021,0.08],[73.6,0.034,0.1],[74.1,-0.003,0.08],[74.5,-0.028,0.1],[74.9,0.074,0.08],[75.9,0.038,0.08],[76.2,0.022,0.1],[77,0.002,0.05],[78.1,0.076,0.07],[78.7,0.072,0.08],[79.5,-0.234,0.088],[80.4,0.009,0.06],[80.4,-0.081,0.06],[81,-0.006,0.07],[81.2,-0.019,0.06],[81.6,-0.053,0.05],[81.8,0.016,0.06],[82.1,0.028,0.08],[82.4,0.074,0.04],[82.4,-0.077,0.05],[82.8,-0.03,0.06],[84.8,-0.064,0.05],[88.5,-0.019,0.03]];

// ---------------- DRAWING ----------------
const W = 1500, H = 1241;
const svg = d3.select("body").append("svg").attr("width", W).attr("height", H)
  .style("background", "#fff").style("display", "block");

const FONT = "'Liberation Sans', Arial, Helvetica, sans-serif";
const AXC = "#262626";

svg.append("text").attr("x", 757).attr("y", 67).attr("text-anchor", "middle")
  .attr("font-family", "'Open Sans', 'Liberation Sans', sans-serif").attr("font-size", 46)
  .attr("textLength", 685).attr("lengthAdjust", "spacingAndGlyphs")
  .attr("fill", "#000").text(titleText);

const x = d3.scaleLinear().domain([-90, 90]).range([188, 1478]);

function panel(id, top, bottom, series, ylab, showXLabel) {
  const y = d3.scaleLinear().domain([-0.5, 0.5]).range([bottom, top]);
  const data = [].concat(...series);

  svg.append("clipPath").attr("id", id).append("rect")
    .attr("x", x.range()[0]).attr("y", top).attr("width", x.range()[1] - x.range()[0]).attr("height", bottom - top);

  const g = svg.append("g").attr("clip-path", `url(#${id})`);
  const cap = 11;
  g.append("g").attr("stroke", "#9d9d9d").attr("stroke-width", 2).attr("fill", "none")
    .selectAll("path").data(data).join("path")
    .attr("d", d => {
      const xx = x(d[0]), y1 = y(d[1] - d[2]), y2 = y(d[1] + d[2]);
      return `M${xx},${y1}V${y2}M${xx - cap},${y1}H${xx + cap}M${xx - cap},${y2}H${xx + cap}`;
    });
  g.append("g").selectAll("circle").data(data).join("circle")
    .attr("cx", d => x(d[0])).attr("cy", d => y(d[1])).attr("r", 4).attr("fill", "#000");

  const styleAxis = (sel) => {
    sel.select(".domain").remove();
    sel.selectAll(".tick line").attr("stroke", AXC).attr("stroke-width", 2);
    sel.selectAll(".tick text").attr("fill", AXC);
    sel.attr("font-family", FONT).attr("font-size", 46);
  };
  const fmt = d => String(d);

  svg.append("g").attr("transform", `translate(0,${bottom})`)
    .call(d3.axisBottom(x).tickValues(xTicks).tickSize(-11).tickPadding(31).tickFormat(fmt)).call(styleAxis);
  svg.append("g").attr("transform", `translate(0,${top})`)
    .call(d3.axisTop(x).tickValues(xTicks).tickSize(-11).tickFormat("")).call(styleAxis);
  svg.append("g").attr("transform", `translate(${x.range()[0]},0)`)
    .call(d3.axisLeft(y).tickValues(yTicks).tickSize(-11).tickPadding(17).tickFormat(fmt)).call(styleAxis);
  svg.append("g").attr("transform", `translate(${x.range()[1]},0)`)
    .call(d3.axisRight(y).tickValues(yTicks).tickSize(-11).tickFormat("")).call(styleAxis);

  svg.append("rect").attr("x", x.range()[0]).attr("y", top)
    .attr("width", x.range()[1] - x.range()[0]).attr("height", bottom - top)
    .attr("fill", "none").attr("stroke", AXC).attr("stroke-width", 2);

  svg.append("text").attr("transform", `translate(67,${(top + bottom) / 2}) rotate(-90)`)
    .attr("text-anchor", "middle").attr("font-family", FONT).attr("font-size", 52)
    .attr("fill", AXC).text(ylab);

  if (showXLabel) {
    svg.append("text").attr("x", x(0)).attr("y", 1229).attr("text-anchor", "middle")
      .attr("font-family", FONT).attr("font-size", 48).attr("fill", AXC).text(xLabel);
  }
}

panel("clipTop", 88, 505, [raSouth, raMid, raBand, raBand2, raNorthOut, raFar], yLabelTop, false);
panel("clipBot", 683, 1100, [deSouth, deMid, deBand, deNorth, deFar], yLabelBottom, true);
</script>
</body></html>
